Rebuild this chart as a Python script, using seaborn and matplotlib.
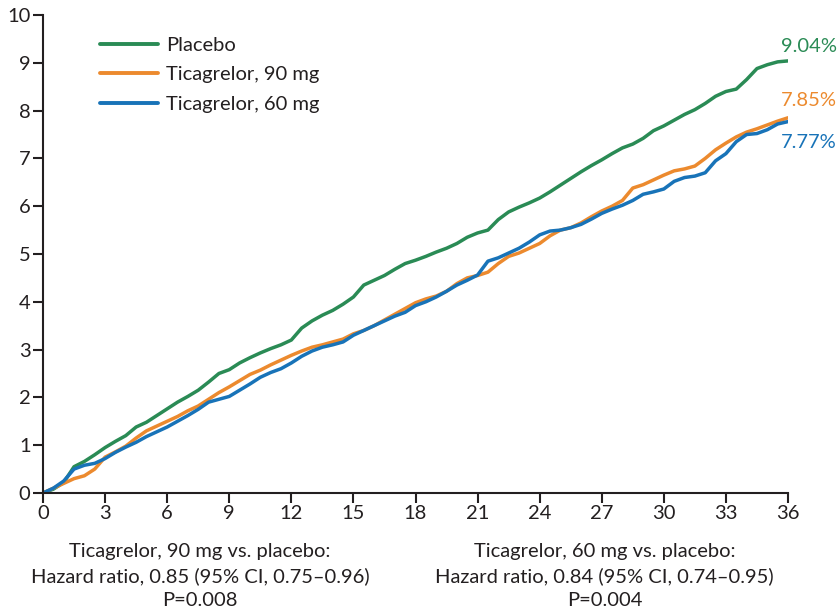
import numpy as np
import pandas as pd
import matplotlib
matplotlib.use("Agg")
import matplotlib.pyplot as plt
import seaborn as sns

# Cumulative incidence (%) by month since randomization
months = [i * 0.5 for i in range(73)]

placebo = [0.00, 0.08, 0.22, 0.55, 0.66, 0.80, 0.95, 1.08, 1.20, 1.38,
           1.48, 1.62, 1.76, 1.90, 2.02, 2.15, 2.32, 2.50, 2.58, 2.72,
           2.83, 2.93, 3.02, 3.10, 3.20, 3.45, 3.60, 3.72, 3.82, 3.95,
           4.10, 4.35, 4.45, 4.55, 4.68, 4.80, 4.87, 4.95, 5.04, 5.12,
           5.22, 5.35, 5.44, 5.50, 5.72, 5.88, 5.98, 6.07, 6.17, 6.30,
           6.44, 6.58, 6.72, 6.85, 6.97, 7.10, 7.22, 7.30, 7.42, 7.58,
           7.68, 7.80, 7.92, 8.02, 8.15, 8.30, 8.40, 8.45, 8.65, 8.88,
           8.96, 9.02, 9.04]

tica90 = [0.00, 0.10, 0.20, 0.30, 0.36, 0.50, 0.75, 0.86, 0.98, 1.15,
          1.30, 1.40, 1.50, 1.60, 1.72, 1.82, 1.96, 2.10, 2.22, 2.35,
          2.48, 2.57, 2.68, 2.78, 2.88, 2.97, 3.05, 3.10, 3.16, 3.22,
          3.33, 3.40, 3.50, 3.62, 3.74, 3.86, 3.98, 4.06, 4.12, 4.22,
          4.38, 4.50, 4.55, 4.62, 4.80, 4.95, 5.02, 5.12, 5.22, 5.38,
          5.50, 5.55, 5.65, 5.78, 5.90, 6.00, 6.12, 6.38, 6.45, 6.55,
          6.65, 6.74, 6.78, 6.84, 7.00, 7.18, 7.32, 7.45, 7.55, 7.62,
          7.70, 7.78, 7.85]

tica60 = [0.00, 0.10, 0.25, 0.50, 0.58, 0.62, 0.72, 0.85, 0.96, 1.06,
          1.18, 1.28, 1.38, 1.50, 1.62, 1.75, 1.90, 1.96, 2.02, 2.15,
          2.28, 2.42, 2.52, 2.60, 2.72, 2.86, 2.97, 3.05, 3.10, 3.16,
          3.30, 3.40, 3.50, 3.60, 3.70, 3.78, 3.92, 4.00, 4.10, 4.22,
          4.35, 4.45, 4.56, 4.85, 4.92, 5.02, 5.12, 5.25, 5.40, 5.48,
          5.50, 5.55, 5.62, 5.73, 5.85, 5.94, 6.02, 6.12, 6.25, 6.30,
          6.36, 6.52, 6.60, 6.63, 6.70, 6.95, 7.10, 7.35, 7.50, 7.52,
          7.60, 7.72, 7.77]

groups = ["Placebo", "Ticagrelor, 90 mg", "Ticagrelor, 60 mg"]
final_labels = ["9.04%", "7.85%", "7.77%"]
label_y = [9.35, 8.22, 7.34]
colors = ["#2a8b55", "#ec8a2e", "#1873b8"]

x_ticks = list(range(0, 37, 3))
y_ticks = list(range(0, 11))

footnote_left = ["Ticagrelor, 90 mg vs. placebo:",
                 "Hazard ratio, 0.85 (95% CI, 0.75\u20130.96)",
                 "P=0.008"]
footnote_right = ["Ticagrelor, 60 mg vs. placebo:",
                  "Hazard ratio, 0.84 (95% CI, 0.74\u20130.95)",
                  "P=0.004"]

df = pd.concat([
    pd.DataFrame({"month": months, "pct": vals, "group": g})
    for g, vals in zip(groups, [placebo, tica90, tica60])
], ignore_index=True)

sns.set_theme(style="ticks")
plt.rcParams["font.family"] = ["Lato", "DejaVu Sans"]

FS = 14.5
INK = "#231f20"

fig = plt.figure(figsize=(8.4, 6.13), dpi=100)
ax = fig.add_axes([0.0512, 0.1958, 0.8869, 0.7797])

sns.lineplot(data=df, x="month", y="pct", hue="group", hue_order=groups,
             palette=colors, estimator=None, linewidth=2.5, ax=ax)

ax.set_xlim(0, 36)
ax.set_ylim(0, 10)
ax.set_xticks(x_ticks)
ax.set_yticks(y_ticks)
ax.set_xlabel("")
ax.set_ylabel("")
sns.despine(ax=ax)
for side in ("left", "bottom"):
    ax.spines[side].set_linewidth(1.5)
    ax.spines[side].set_color(INK)
ax.tick_params(axis="both", length=7, width=1.5, color=INK,
               labelsize=FS, labelcolor=INK, pad=2)

leg = ax.legend(loc="upper left", bbox_to_anchor=(0.0765, 0.955),
                frameon=False, fontsize=FS, handlelength=2.9,
                handletextpad=0.4, labelspacing=0.62, borderpad=0,
                borderaxespad=0)
for line in leg.get_lines():
    line.set_linewidth(2.8)
for t in leg.get_texts():
    t.set_color(INK)

for lbl, yy, c in zip(final_labels, label_y, colors):
    ax.text(38.35, yy, lbl, color=c, fontsize=FS, ha="right", va="center",
            clip_on=False)

for i, line in enumerate(footnote_left):
    fig.text(0.238, 1 - (552 + 24.5 * i) / 613, line, ha="center",
             va="center", fontsize=FS, color=INK)
for i, line in enumerate(footnote_right):
    fig.text(0.72, 1 - (552 + 24.5 * i) / 613, line, ha="center",
             va="center", fontsize=FS, color=INK)

fig.savefig("out.png", dpi=100)
